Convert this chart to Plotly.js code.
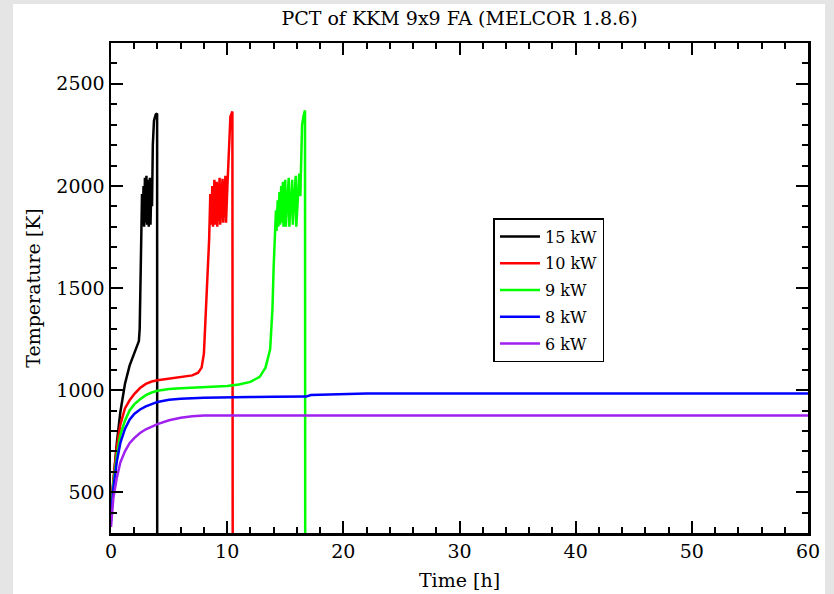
<!DOCTYPE html>
<html>
<head>
<meta charset="utf-8">
<script src="https://cdn.plot.ly/plotly-3.0.1.min.js"></script>
<style>
html,body{margin:0;padding:0;background:#e5e5e5;width:834px;height:594px;overflow:hidden;}
#chart{position:absolute;left:13px;top:4px;width:812px;height:590px;}
</style>
</head>
<body>
<div id="chart"></div>
<script>
// ---- data ----
const seriesNames = ['15 kW', '10 kW', '9 kW', '8 kW', '6 kW'];
const seriesColors = ['#000000', '#ff0000', '#00ff00', '#0000ff', '#a020f0'];

const t15 = [0,0.2,0.5,0.8,1.2,1.6,2.0,2.4,2.47,2.52,2.57,2.62,2.67,2.72,2.8,2.85,2.92,2.97,3.05,3.1,3.2,3.25,3.35,3.4,3.48,3.53,3.6,3.7,3.85,3.97,3.98];
const T15 = [420,560,740,890,1030,1120,1180,1240,1300,1520,1700,1820,1960,1810,2000,1800,2040,1820,2050,1810,2030,1800,2040,1810,2020,1900,2200,2320,2350,2355,0];

const t10 = [0,0.2,0.5,0.8,1.2,1.6,2.0,2.5,3.0,3.5,4.0,5.0,6.0,7.0,7.5,7.8,8.0,8.15,8.3,8.45,8.55,8.62,8.72,8.78,8.9,8.95,9.1,9.15,9.35,9.4,9.6,9.65,9.85,9.9,10.02,10.15,10.28,10.45,10.48];
const T10 = [400,560,720,830,910,950,980,1010,1030,1042,1048,1055,1062,1072,1085,1110,1180,1350,1560,1740,1960,1810,2000,1800,2030,1810,2020,1800,2040,1810,2035,1820,2050,1820,2000,2150,2340,2365,0];

const t9 = [0,0.2,0.5,0.8,1.2,1.6,2.0,2.5,3.0,3.5,4.0,5.0,6.0,8.0,10.0,11.0,12.0,12.8,13.3,13.7,13.9,14.0,14.1,14.2,14.25,14.35,14.4,14.5,14.55,14.65,14.7,14.8,14.85,15.0,15.05,15.3,15.35,15.6,15.65,15.9,15.95,16.2,16.3,16.45,16.6,16.7,16.72];
const T9 = [380,540,680,780,850,900,930,955,975,988,997,1005,1009,1014,1020,1027,1040,1065,1110,1200,1400,1600,1750,1880,1780,1930,1800,1970,1810,2000,1820,2020,1800,2030,1800,2040,1800,2030,1810,2050,1800,2060,1950,2300,2350,2370,0];

const t8 = [0,0.2,0.5,0.8,1.2,1.6,2.0,2.5,3.0,3.5,4.0,5.0,6.0,8.0,10.0,12.0,14.0,16.8,17.2,20.0,21.5,22,30,40,50,60];
const T8 = [360,520,650,740,810,855,883,905,920,932,942,953,958,962,965,966,967,968,976,978,980,983,983,983,983,983];

const t6 = [0,0.2,0.5,0.8,1.2,1.6,2.0,2.5,3.0,3.5,4.0,5.0,6.0,7.0,8.0,10.0,20,30,40,50,60];
const T6 = [330,470,570,645,700,740,765,790,808,822,833,852,864,872,875,876,876,876,876,876,876];

const xTickVals = [0,10,20,30,40,50,60];
const yTickVals = [500,1000,1500,2000,2500];

// ---- build traces ----
const xs = [t15, t10, t9, t8, t6];
const ys = [T15, T10, T9, T8, T6];
const traces = xs.map((x, i) => ({
  type: 'scatter', mode: 'lines', x: x, y: ys[i], name: seriesNames[i],
  legendgroup: 'g' + i,
  line: {color: seriesColors[i], width: 2.5}
}));

const FONT = 'DejaVu Serif';
const axisCommon = {
  ticks: 'inside', ticklen: 12, tickwidth: 2, tickcolor: '#000',
  showline: true, linewidth: 2.5, linecolor: '#000', mirror: 'allticks',
  showgrid: false, zeroline: false,
  tickfont: {family: FONT, size: 19, color: '#000'}
};

const layout = {
  width: 812, height: 590,
  paper_bgcolor: '#ffffff', plot_bgcolor: '#ffffff',
  margin: {l: 98, r: 17, t: 39, b: 61},
  showlegend: true,
  title: {text: 'PCT of KKM 9x9 FA (MELCOR 1.8.6)', font: {family: FONT, size: 19, color: '#000'},
          x: 0.5, xref: 'paper', xanchor: 'center', y: 1 - 14/590, yref: 'container', yanchor: 'middle'},
  xaxis: Object.assign({}, axisCommon, {
    range: [0, 60], tickmode: 'array', tickvals: xTickVals, ticktext: xTickVals.map(String),
    minor: {dtick: 2, tick0: 0, ticks: 'inside', ticklen: 6, tickwidth: 2, tickcolor: '#000'},
    title: {text: 'Time [h]', font: {family: FONT, size: 19, color: '#000'}, standoff: 13}
  }),
  yaxis: Object.assign({}, axisCommon, {
    range: [300, 2700], tickmode: 'array', tickvals: yTickVals, ticktext: yTickVals.map(String),
    minor: {dtick: 100, tick0: 0, ticks: 'inside', ticklen: 6, tickwidth: 2, tickcolor: '#000'},
    title: {text: 'Temperature [K]', font: {family: FONT, size: 19, color: '#000'}, standoff: 11}
  }),
  legend: {
    x: (494 - 111) / 698, y: (533 - 218) / 490, xanchor: 'left', yanchor: 'top',
    bgcolor: '#ffffff', bordercolor: '#000', borderwidth: 1.5,
    font: {family: FONT, size: 16, color: '#000'},
    traceorder: 'grouped', tracegroupgap: 3, itemwidth: 40
  }
};

Plotly.newPlot('chart', traces, layout, {displayModeBar: false, staticPlot: true});
</script>
</body>
</html>
